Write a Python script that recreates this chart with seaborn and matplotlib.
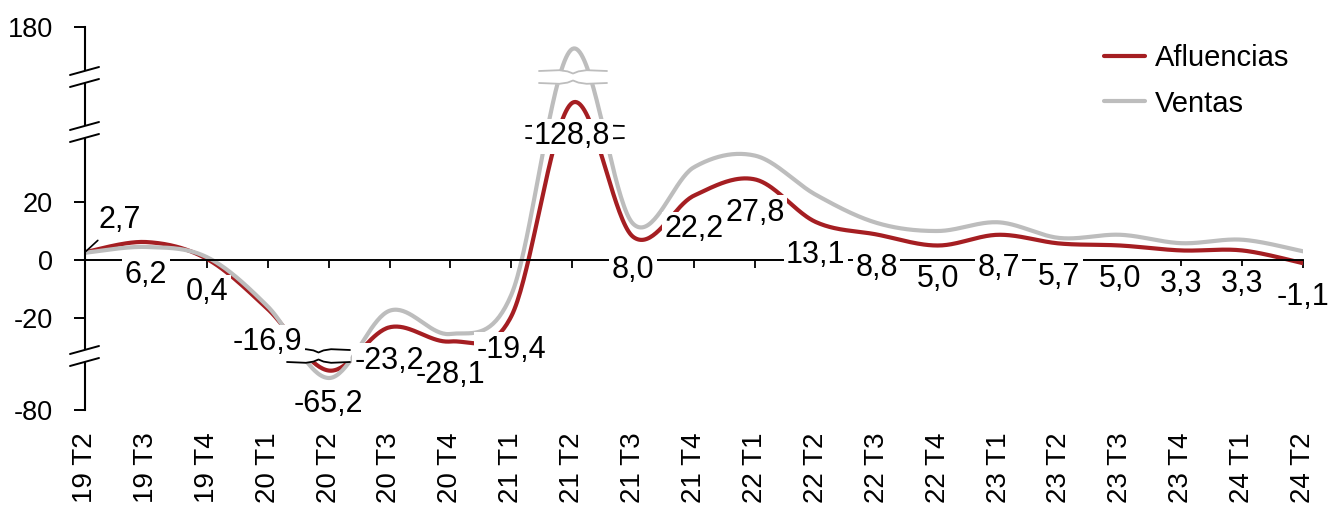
import numpy as np
import pandas as pd
import matplotlib
matplotlib.use("Agg")
import matplotlib.pyplot as plt
from matplotlib.lines import Line2D
from matplotlib.patches import Rectangle
import seaborn as sns

# ---- data -------------------------------------------------------------
quarters = ["19 T2", "19 T3", "19 T4", "20 T1", "20 T2", "20 T3", "20 T4",
            "21 T1", "21 T2", "21 T3", "21 T4", "22 T1", "22 T2", "22 T3",
            "22 T4", "23 T1", "23 T2", "23 T3", "23 T4", "24 T1", "24 T2"]
afluencias = [2.7, 6.2, 0.4, -16.9, -65.2, -23.2, -28.1, -19.4, 128.8, 8.0,
              22.2, 27.8, 13.1, 8.8, 5.0, 8.7, 5.7, 5.0, 3.3, 3.3, -1.1]
ventas = [2.5, 4.5, 1.0, -16.0, -68.0, -17.5, -25.5, -12.0, 170.0, 12.5,
          32.0, 36.0, 22.5, 12.8, 10.0, 13.0, 7.6, 8.7, 5.8, 7.0, 3.0]
y_ticks = [-80, -20, 0, 20, 180]
y_tick_labels = ["-80", "-20", "0", "20", "180"]

RED = "#A51E22"
GRAY = "#BDBDBD"

# ---- broken value axis: piecewise-linear scale ------------------------
# value knots and the vertical position (pixels from the bottom) they take
knot_vals = np.array([-80.0, -62.0, -31.03, 42.07, 110.0, 145.0, 160.0, 180.0])
knot_pos = np.array([0.0, 48.0, 60.0, 272.0, 284.0, 327.0, 339.0, 383.0])
# the three gaps (lower, upper) in position units
gaps = [(48.0, 60.0), (272.0, 284.0), (327.0, 339.0)]


def fwd(v):
    return np.interp(v, knot_vals, knot_pos)


def inv(p):
    return np.interp(p, knot_pos, knot_vals)


def bezier_smooth(x, p, n=40):
    """Smoothed line through the points (cubic Bezier, Catmull-Rom tangents)."""
    P = np.column_stack([x, p]).astype(float)
    ext = np.vstack([P[0], P, P[-1]])
    out = []
    for i in range(len(P) - 1):
        p0, p3 = ext[i + 1], ext[i + 2]
        c1 = p0 + (ext[i + 2] - ext[i]) / 6.0
        c2 = p3 - (ext[i + 3] - ext[i + 1]) / 6.0
        t = np.linspace(0, 1, n, endpoint=(i == len(P) - 2))[:, None]
        seg = ((1 - t) ** 3) * p0 + 3 * ((1 - t) ** 2) * t * c1 \
            + 3 * (1 - t) * (t ** 2) * c2 + (t ** 3) * p3
        out.append(seg)
    return np.vstack(out)


# ---- figure -----------------------------------------------------------
sns.set_theme(style="white")
plt.rcParams["font.family"] = ["Liberation Sans", "DejaVu Sans"]
plt.rcParams["text.color"] = "black"

W, H = 1340, 507
fig = plt.figure(figsize=(W / 100, H / 100), dpi=100)
ax_left, ax_bottom, ax_w, ax_h = 85, 97, 1218, 383
ax = fig.add_axes([ax_left / W, ax_bottom / H, ax_w / W, ax_h / H])
ax.set_yscale("function", functions=(fwd, inv))

xidx = np.arange(len(quarters))
frames = []
for name, vals in (("Afluencias", afluencias), ("Ventas", ventas)):
    curve = bezier_smooth(xidx, fwd(np.array(vals)))
    frames.append(pd.DataFrame({"x": curve[:, 0], "y": inv(curve[:, 1]),
                                "serie": name}))
df = pd.concat(frames, ignore_index=True)

sns.lineplot(data=df, x="x", y="y", hue="serie",
             hue_order=["Afluencias", "Ventas"],
             palette={"Afluencias": RED, "Ventas": GRAY},
             estimator=None, sort=False, lw=3.0, legend=False, ax=ax,
             zorder=2)

ax.set_xlim(0, len(quarters) - 1)
ax.set_ylim(-80, 180)
ax.set_xlabel("")
ax.set_ylabel("")

# axes styling
for s in ("top", "right"):
    ax.spines[s].set_visible(False)
ax.spines["left"].set_color("black")
ax.spines["left"].set_linewidth(1.5)
ax.spines["bottom"].set_position(("data", 0))
ax.spines["bottom"].set_color("black")
ax.spines["bottom"].set_linewidth(1.4)

ax.set_yticks(y_ticks)
ax.set_yticklabels(y_tick_labels)
ax.yaxis.set_minor_locator(matplotlib.ticker.NullLocator())
ax.tick_params(axis="y", left=True, direction="out", length=8, width=1.4,
               color="black", pad=15, labelsize=19.5, labelcolor="black")

ax.set_xticks(xidx)
ax.tick_params(axis="x", bottom=True, direction="out", length=6, width=1.3,
               color="black", labelbottom=False)

sec = ax.secondary_xaxis("bottom")
sec.set_xticks(xidx)
sec.set_xticklabels(quarters, rotation=90, fontsize=20, color="black")
sec.tick_params(length=0, pad=16)
sec.spines["bottom"].set_visible(False)

# break marks on the value axis
px_x = 1.0 / ax_w
px_y = 1.0 / ax_h
for lo, hi in gaps:
    ax.add_patch(Rectangle((-4 * px_x, lo * px_y), 8 * px_x, (hi - lo) * px_y,
                           transform=ax.transAxes, fc="white", ec="none",
                           clip_on=False, zorder=5))
    for p in (lo, hi):
        ax.plot([-15 * px_x, 14 * px_x], [(p - 4) * px_y, (p + 4) * px_y],
                transform=ax.transAxes, color="black", lw=1.4,
                clip_on=False, zorder=6)


def series_break(x0, x1, lo, hi, color):
    fr = np.array([0.0, 0.3, 0.42, 0.5, 0.58, 0.7, 1.0])
    xs = x0 + (x1 - x0) * fr
    top = hi + np.array([0.0, 0.8, -0.4, -2.5, -0.4, 0.8, 0.0])
    bot = lo + np.array([0.0, -0.8, 0.4, 2.5, 0.4, -0.8, 0.0])
    ax.fill_between(xs, inv(bot), inv(top), color="white", lw=0, zorder=2.6)
    ax.plot(xs, inv(top), color=color, lw=1.3, zorder=2.7)
    ax.plot(xs, inv(bot), color=color, lw=1.3, zorder=2.7)


def px_to_x(px):
    return (px - ax_left) / (ax_w / (len(quarters) - 1))


series_break(px_to_x(287), px_to_x(350), *gaps[0], "black")
series_break(px_to_x(526), px_to_x(624), *gaps[1], "black")
series_break(px_to_x(539), px_to_x(607), *gaps[2], GRAY)

# value labels for Afluencias: white backing boxes first, then all texts on top
for i, v in enumerate(afluencias):
    txt = f"{v:.1f}".replace(".", ",")
    offset = (25, 23) if i == 0 else (0, -24)
    common = dict(xytext=offset, textcoords="offset points",
                  ha="center", va="center", fontsize=22)
    ax.annotate(txt, (i, v), color="none", zorder=7,
                bbox=dict(boxstyle="square,pad=0.08", fc="white", ec="none"),
                **common)
    if i == 0:
        ax.annotate(txt, (i, v), color="black", zorder=8,
                    arrowprops=dict(arrowstyle="-", color="black", lw=1.2,
                                    shrinkA=2, shrinkB=1),
                    **common)
    else:
        ax.annotate(txt, (i, v), color="black", zorder=8, **common)

# legend
handles = [Line2D([0], [0], color=RED, lw=3.0),
           Line2D([0], [0], color=GRAY, lw=3.0)]
fig.legend(handles, ["Afluencias", "Ventas"], loc="upper left",
           bbox_to_anchor=(1104 / W, 1 - 44 / H), frameon=False,
           fontsize=21, handlelength=1.4, handletextpad=0.35,
           labelspacing=0.6, borderpad=0, borderaxespad=0,
           labelcolor="black")

fig.savefig("out.png", dpi=100, facecolor="white")
